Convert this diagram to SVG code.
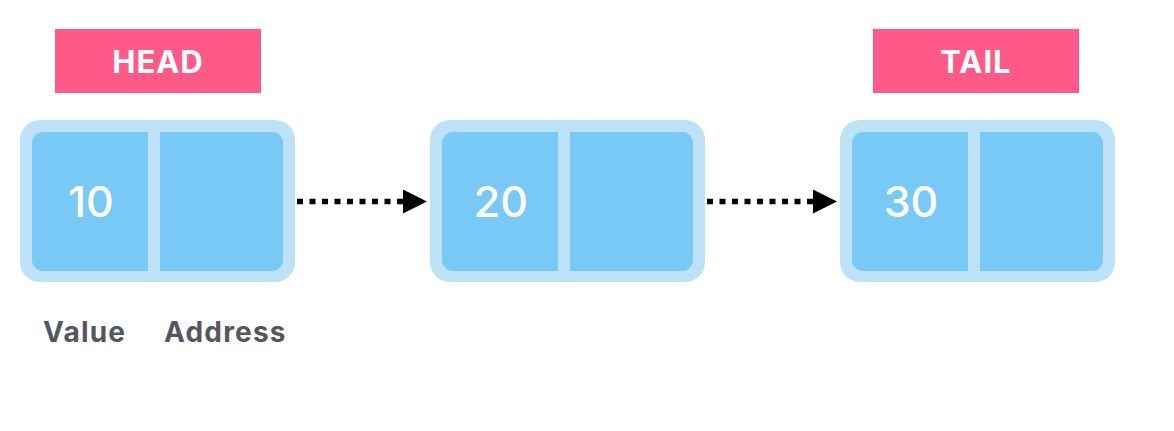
<svg xmlns="http://www.w3.org/2000/svg" width="1174" height="431" viewBox="0 0 1174 431">
<defs>
<style>
.tag{fill:#fe5a89}
.tagt{fill:#fff;font-family:Inter,"Liberation Sans",sans-serif;font-weight:700;font-size:31px;letter-spacing:1px;text-anchor:middle}
.outer{fill:#bde2f8}
.cell{fill:#78c9f5}
.num{fill:#fff;font-family:Inter,"Liberation Sans",sans-serif;font-weight:500;font-size:43px;text-anchor:middle}
.lbl{fill:#54575d;font-family:Inter,"Liberation Sans",sans-serif;font-weight:700;font-size:28px;letter-spacing:1.2px}
.link{stroke:#000;stroke-width:5.5;stroke-dasharray:6 6.5;fill:none}
</style>
<marker id="ah" markerWidth="24" markerHeight="24" refX="0" refY="12" orient="auto" markerUnits="userSpaceOnUse">
<path d="M0,0 L24,12 L0,24 Z" fill="#000"/>
</marker>
</defs>
<rect width="1174" height="431" fill="#fff"/>
<g id="head-tag">
<rect class="tag" x="55" y="29" width="206" height="64"/>
<text class="tagt" x="158" y="73">HEAD</text>
</g>
<g id="tail-tag">
<rect class="tag" x="873" y="29" width="206" height="64"/>
<text class="tagt" x="976" y="73">TAIL</text>
</g>
<g id="node1">
<rect class="outer" x="20" y="120" width="275" height="162" rx="20"/>
<rect class="cell" x="32" y="132" width="251" height="139" rx="11"/>
<rect class="outer" x="148" y="131" width="12" height="141"/>
<text class="num" x="91" y="217">10</text>
</g>
<g id="node2">
<rect class="outer" x="430" y="120" width="275" height="162" rx="20"/>
<rect class="cell" x="442" y="132" width="251" height="139" rx="11"/>
<rect class="outer" x="558" y="131" width="12" height="141"/>
<text class="num" x="501" y="217">20</text>
</g>
<g id="node3">
<rect class="outer" x="840" y="120" width="275" height="162" rx="20"/>
<rect class="cell" x="852" y="132" width="251" height="139" rx="11"/>
<rect class="outer" x="968" y="131" width="12" height="141"/>
<text class="num" x="911" y="217">30</text>
</g>
<g id="connectors">
<line class="link" x1="297" y1="201.5" x2="403" y2="201.5" marker-end="url(#ah)"/>
<line class="link" x1="707" y1="201.5" x2="813" y2="201.5" marker-end="url(#ah)"/>
</g>
<g id="labels">
<text class="lbl" x="43" y="342">Value</text>
<text class="lbl" x="164" y="342">Address</text>
</g>
</svg>
